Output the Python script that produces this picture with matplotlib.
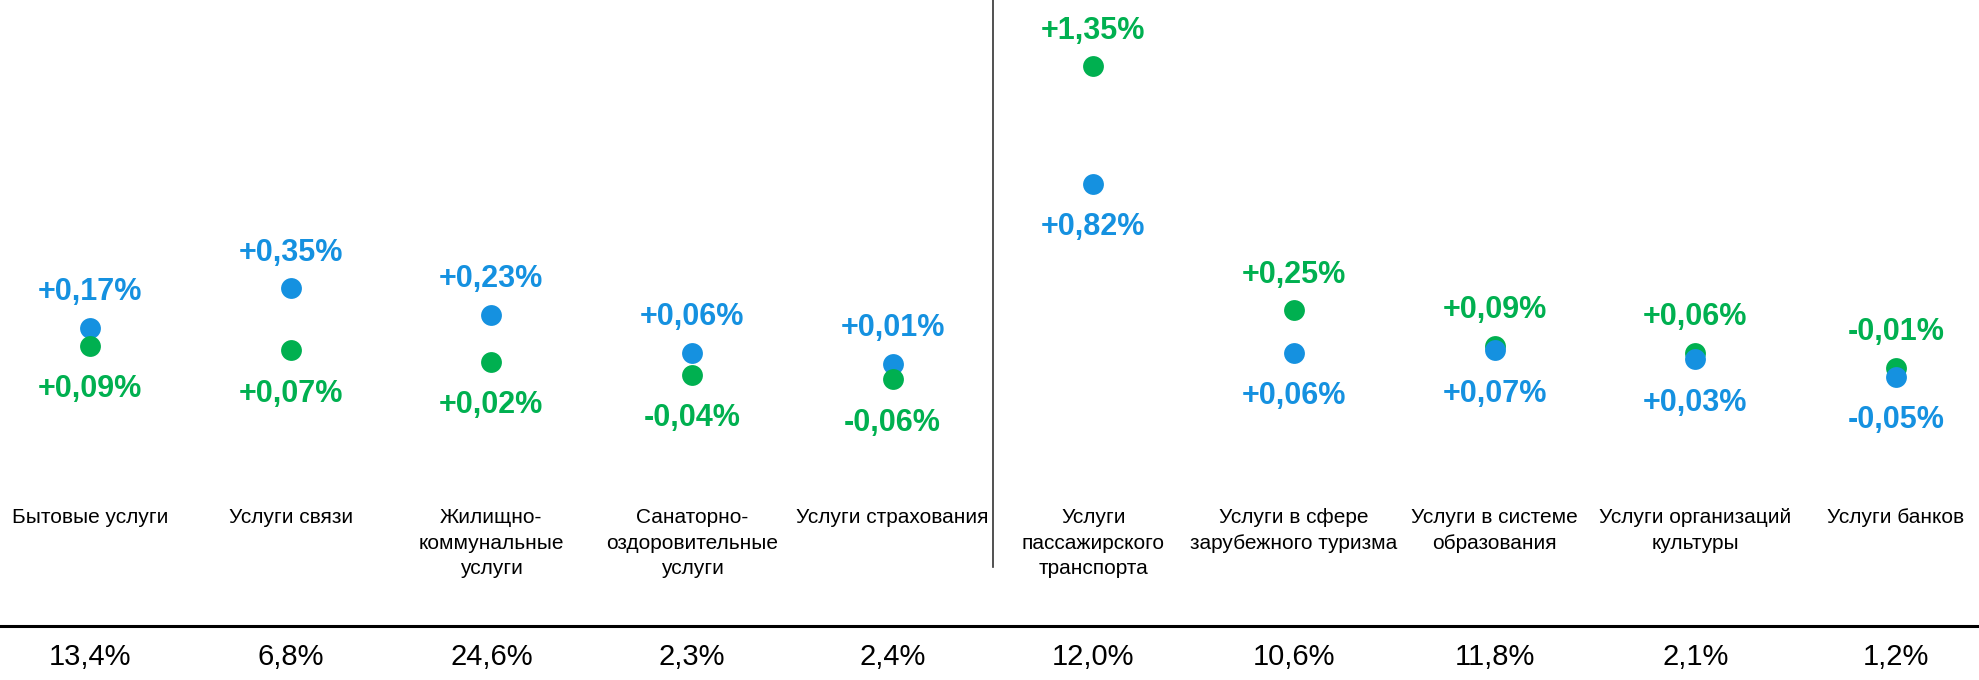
"""
Price growth by service group: two periods compared as dot pairs,
with each group's weight listed under the baseline.
"""

import matplotlib
matplotlib.use('Agg')  # Non-interactive backend
import matplotlib.pyplot as plt

# Data
categories = [
    'Бытовые услуги',
    'Услуги связи',
    'Жилищно-\nкоммунальные\nуслуги',
    'Санаторно-\nоздоровительные\nуслуги',
    'Услуги страхования',
    'Услуги\nпассажирского\nтранспорта',
    'Услуги в сфере\nзарубежного туризма',
    'Услуги в системе\nобразования',
    'Услуги организаций\nкультуры',
    'Услуги банков',
]
blue_values = [0.17, 0.35, 0.23, 0.06, 0.01, 0.82, 0.06, 0.07, 0.03, -0.05]
green_values = [0.09, 0.07, 0.02, -0.04, -0.06, 1.35, 0.25, 0.09, 0.06, -0.01]
weights = [13.4, 6.8, 24.6, 2.3, 2.4, 12.0, 10.6, 11.8, 2.1, 1.2]

BLUE = '#1591E0'
GREEN = '#00B050'

plt.rcParams['font.family'] = ['Liberation Sans', 'DejaVu Sans']


def fmt_change(v):
    return f'{v:+.2f}%'.replace('.', ',')


def fmt_weight(v):
    return f'{v:.1f}%'.replace('.', ',')


fig = plt.figure(figsize=(19.79, 6.80), dpi=100)
ax = fig.add_axes([0, 0, 1, 1])
ax.set_xlim(-0.4485, 9.4135)
ax.set_ylim(-1.4144, 1.6486)
ax.axis('off')

for i, (b, g) in enumerate(zip(blue_values, green_values)):
    # higher dot first, lower one drawn on top of it
    pair = sorted([(b, BLUE), (g, GREEN)], key=lambda p: -p[0])
    for z, (v, color) in enumerate(pair):
        ax.plot(i, v, 'o', color=color, markersize=15, markeredgewidth=0,
                zorder=3 + z)
    (hi, hi_color), (lo, lo_color) = pair
    ax.annotate(fmt_change(hi), (i, hi), xytext=(0, 20), textcoords='offset points',
                ha='center', va='baseline', color=hi_color,
                fontsize=22, fontweight='bold')
    ax.annotate(fmt_change(lo), (i, lo), xytext=(0, -37), textcoords='offset points',
                ha='center', va='baseline', color=lo_color,
                fontsize=22, fontweight='bold')

# Category names and weights in pixel rows under the dots
to_axes_y = lambda px: 1 - px / 680
trans = ax.get_xaxis_transform()
for i, (name, w) in enumerate(zip(categories, weights)):
    ax.text(i, to_axes_y(508), name, transform=trans, ha='center', va='top',
            fontsize=15, color='black', linespacing=1.45)
    ax.text(i, to_axes_y(665), fmt_weight(w), transform=trans, ha='center',
            va='baseline', fontsize=21, color='black')

# Baseline above the weights and separator between the two groups
ax.axhline(-1.1712, color='black', linewidth=2.2)
ax.plot([4.5, 4.5], [to_axes_y(0), to_axes_y(567)], transform=trans,
        color='#333333', linewidth=1.2)

plt.savefig('out.png', dpi=100)
plt.close()
